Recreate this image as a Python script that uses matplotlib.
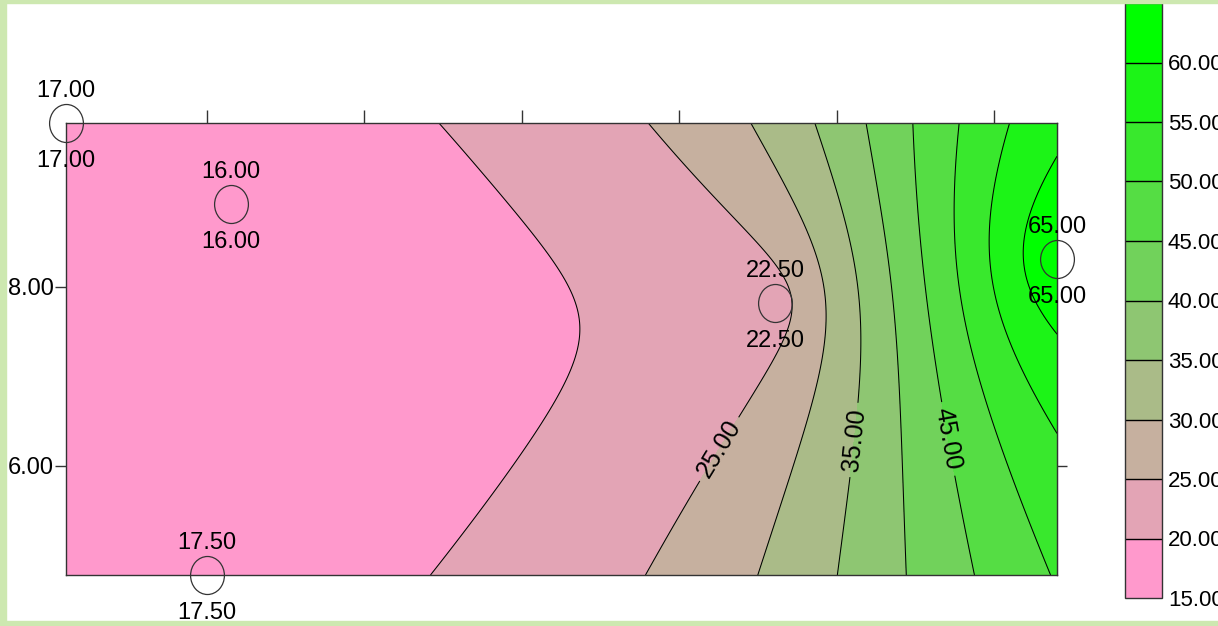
import numpy as np
import matplotlib
matplotlib.use("Agg")
import matplotlib.pyplot as plt
from matplotlib.path import Path
from matplotlib.patches import Rectangle
from matplotlib.transforms import Affine2D

plt.rcParams['font.family'] = ['Liberation Sans', 'DejaVu Sans']

# sample locations and measured values
pt_x = np.array([0.21, 2.30, 2.00, 9.22, 12.80])
pt_y = np.array([9.83, 8.93, 4.78, 7.82, 8.31])
pt_z = np.array([17.0, 16.0, 17.5, 22.5, 65.0])

levels = [15, 20, 25, 30, 35, 40, 45, 50, 55, 60, 65]
band_colors = ['#ff99cc', '#e3a4b5', '#c6b09f', '#aabb88', '#8ec672',
               '#71d25b', '#55dd44', '#39e82d', '#1cf417', '#00ff00']
labeled_levels = [25, 35, 45]
plain_levels = [20, 30, 40, 50, 55, 60]
label_spots = [(8.52, 6.18), (10.21, 6.29), (11.35, 6.29)]
xticks_top = [2, 4, 6, 8, 10, 12]
yticks_left = [6, 8]

PX = 72 / 100  # points per pixel at dpi 100


def krige_linear(px, py, pz, gx, gy):
    # ordinary kriging with a linear variogram, dual form
    n = len(px)
    d = np.hypot(px[:, None] - px[None, :], py[:, None] - py[None, :])
    A = np.zeros((n + 1, n + 1))
    A[:n, :n] = d
    A[:n, n] = 1
    A[n, :n] = 1
    sol = np.linalg.solve(A, np.append(pz, 0.0))
    dg = np.hypot(gx[..., None] - px, gy[..., None] - py)
    return dg @ sol[:n] + sol[n]


gx, gy = np.meshgrid(np.linspace(pt_x.min(), pt_x.max(), 400),
                     np.linspace(pt_y.min(), pt_y.max(), 300))
gz = np.clip(krige_linear(pt_x, pt_y, pt_z, gx, gy), 15, 65)

fig = plt.figure(figsize=(12.18, 6.26), dpi=100)
ax = fig.add_axes([66 / 1218, 51 / 626, 991 / 1218, 452 / 626])
cax = fig.add_axes([1125 / 1218, 28 / 626, 37 / 1218, 595 / 626])

cf = ax.contourf(gx, gy, gz, levels=levels, colors=band_colors)
ax.contour(gx, gy, gz, levels=plain_levels, colors='black', linewidths=0.75)
cs = ax.contour(gx, gy, gz, levels=labeled_levels, colors='black', linewidths=0.75)
ax.clabel(cs, manual=label_spots, fmt='%.2f', fontsize=18, inline=True,
          inline_spacing=6)

ax.set_xlim(pt_x.min(), pt_x.max())
ax.set_ylim(pt_y.min(), pt_y.max())

# unfilled ellipses at sample locations, value above and below
ell = Path.unit_circle().transformed(Affine2D().scale(0.89, 1.0))
ax.plot(pt_x, pt_y, linestyle='none', marker=ell, markersize=38 * PX,
        mfc='none', mec='#333333', mew=0.9, clip_on=False, zorder=5)
for x, y, z in zip(pt_x, pt_y, pt_z):
    for dy in (32 * PX, -38 * PX):
        ax.annotate('%.2f' % z, (x, y), xytext=(0, dy), textcoords='offset points',
                    ha='center', va='center', fontsize=17, annotation_clip=False,
                    zorder=6)

for s in ax.spines.values():
    s.set_color('#333333')
    s.set_linewidth(1.0)

ax.set_xticks(xticks_top)
ax.tick_params(axis='x', top=True, bottom=False, labeltop=False, labelbottom=False,
               direction='out', length=13 * PX, width=1, color='#333333')
ax.set_yticks(yticks_left)
ax.set_yticklabels(['%.2f' % v for v in yticks_left])
ax.tick_params(axis='y', left=True, right=False, direction='out', length=11 * PX,
               width=1, color='#333333', labelsize=17, pad=1 * PX)

right = ax.secondary_yaxis('right')
right.set_yticks([6])
right.tick_params(direction='out', length=10 * PX, width=1, color='#333333',
                  labelright=False)
right.spines['right'].set_color('#333333')

cb = fig.colorbar(cf, cax=cax, ticks=levels[:-1], format='%.2f', drawedges=True)
cb.outline.set_edgecolor('#333333')
cb.outline.set_linewidth(1.0)
cb.dividers.set_color('black')
cb.dividers.set_linewidth(1.0)
cax.tick_params(length=0, labelsize=16, pad=6 * PX)

# light green frame
frame = '#cde8b0'
for r in [(0, 0, 6 / 1218, 1), (0, 1 - 3 / 626, 1, 3 / 626), (0, 0, 1, 5 / 626)]:
    fig.patches.append(Rectangle(r[:2], r[2], r[3], transform=fig.transFigure,
                                 color=frame, zorder=10))

fig.savefig('out.png', dpi=100)
